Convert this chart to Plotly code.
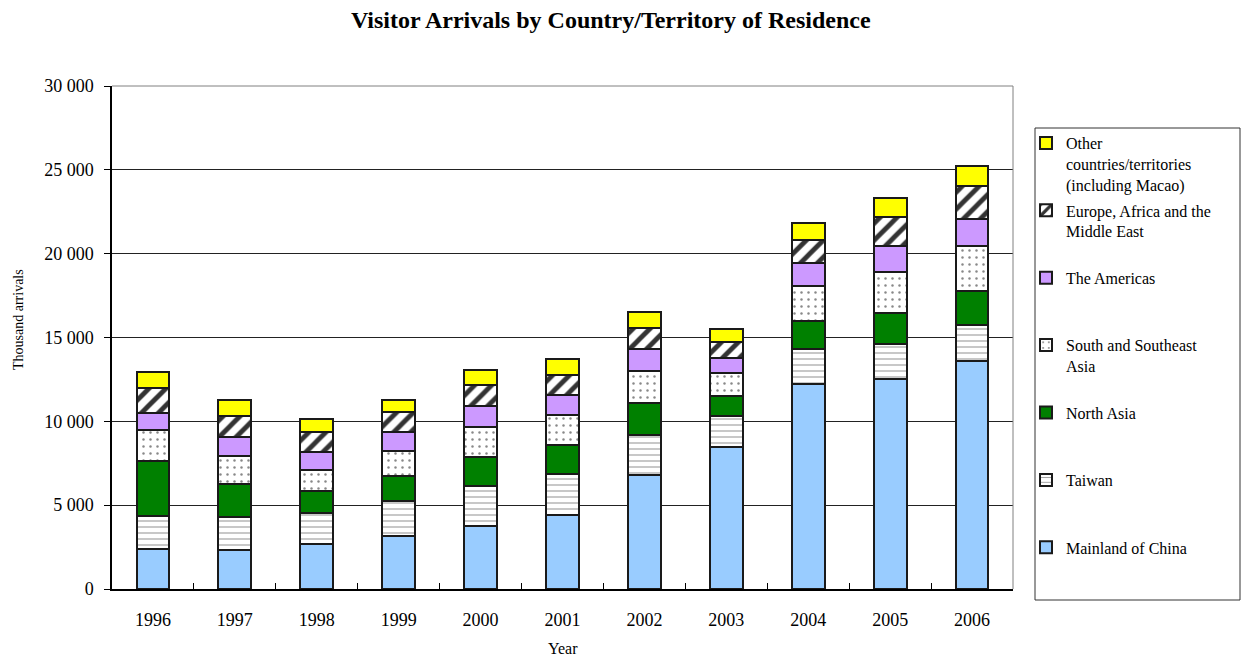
import plotly.graph_objects as go

years = ["1996", "1997", "1998", "1999", "2000", "2001", "2002", "2003", "2004", "2005", "2006"]
mainland = [2380, 2320, 2660, 3170, 3770, 4400, 6790, 8450, 12220, 12510, 13590]
taiwan = [2000, 1970, 1880, 2080, 2380, 2440, 2420, 1860, 2090, 2110, 2180]
north_asia = [3230, 2000, 1290, 1470, 1730, 1770, 1870, 1210, 1650, 1850, 1980]
ssea = [1850, 1630, 1290, 1510, 1790, 1750, 1920, 1350, 2100, 2440, 2680]
americas = [1050, 1130, 1070, 1130, 1270, 1230, 1310, 910, 1390, 1530, 1610]
europe = [1470, 1290, 1170, 1170, 1250, 1170, 1270, 970, 1390, 1770, 1970]
other = [990, 910, 750, 770, 850, 930, 970, 730, 990, 1110, 1210]

FONT = "Liberation Serif"
LINE = dict(color="#1a1a1a", width=2)

series = [
    ("Mainland of China<br> <br> ", mainland, dict(color="#99CCFF", line=LINE)),
    ("Taiwan<br> <br> ", taiwan, dict(color="white", line=LINE,
        pattern=dict(shape="-", fgcolor="#999999", bgcolor="white", size=6, solidity=0.18, fillmode="replace"))),
    ("North Asia<br> <br> ", north_asia, dict(color="#008000", line=LINE)),
    ("South and Southeast<br>Asia<br> ", ssea, dict(color="white", line=LINE,
        pattern=dict(shape=".", fgcolor="#888888", bgcolor="white", size=7, solidity=0.1, fillmode="replace"))),
    ("The Americas<br> <br> ", americas, dict(color="#CC99FF", line=LINE)),
    ("Europe, Africa and the<br>Middle East<br> ", europe, dict(color="white", line=LINE,
        pattern=dict(shape="/", fgcolor="#333333", bgcolor="white", size=12, solidity=0.4, fillmode="replace"))),
    ("Other<br>countries/territories<br>(including Macao)", other, dict(color="#FFFF00", line=LINE)),
]

n = len(series)
fig = go.Figure()
for i, (name, vals, marker) in enumerate(series):
    fig.add_trace(go.Bar(x=years, y=vals, name=name, marker=marker,
                         legendgroup=f"g{i}", legendrank=n - i))

fig.update_layout(
    barmode="stack",
    bargap=0.6,
    width=1249, height=657,
    margin=dict(l=112, r=236, t=86, b=68, autoexpand=False),
    paper_bgcolor="white", plot_bgcolor="white",
    font=dict(family=FONT, size=18, color="black"),
    separators=". ",
    title=dict(text="<b>Visitor Arrivals by Country/Territory of Residence</b>",
               x=0.489, xanchor="center", y=1 - 20 / 657, yanchor="middle",
               font=dict(family=FONT, size=24, color="black")),
    legend=dict(x=(1026 - 112) / 901, xanchor="left", y=(589 - 126) / 503, yanchor="top",
                traceorder="grouped", tracegroupgap=2, valign="top",
                font=dict(family=FONT, size=16, color="black"),
                bgcolor="rgba(0,0,0,0)", borderwidth=0),
    showlegend=True,
    xaxis=dict(type="category", tickson="boundaries", ticks="inside", ticklen=6, tickcolor="black",
               showline=True, linecolor="black", linewidth=1.5, showgrid=False,
               ticklabelstandoff=14, tickfont=dict(family=FONT, size=18)),
    yaxis=dict(range=[0, 30000], dtick=5000, tickformat=",d", ticks="outside", ticklen=6,
               tickcolor="black", showline=True, linecolor="black", linewidth=1.5,
               showgrid=True, gridcolor="#222222", gridwidth=1, zeroline=False,
               ticklabelstandoff=7, tickfont=dict(family=FONT, size=18)),
    shapes=[
        dict(type="line", xref="paper", yref="paper", x0=0, x1=1, y0=1, y1=1,
             line=dict(color="#808080", width=1)),
        dict(type="line", xref="paper", yref="paper", x0=1, x1=1, y0=0, y1=1,
             line=dict(color="#808080", width=1)),
        dict(type="rect", xref="paper", yref="paper",
             x0=(1035 - 112) / 901, x1=(1240 - 112) / 901,
             y0=(589 - 600) / 503, y1=(589 - 128) / 503,
             line=dict(color="#333333", width=1), fillcolor="rgba(0,0,0,0)"),
    ],
    annotations=[
        dict(text="Thousand arrivals", xref="paper", yref="paper",
             x=(18 - 112) / 901, y=(589 - 320) / 503, textangle=-90,
             showarrow=False, xanchor="center", yanchor="middle",
             font=dict(family=FONT, size=14, color="black")),
        dict(text="Year", xref="paper", yref="paper",
             x=(563 - 112) / 901, y=(589 - 648) / 503,
             showarrow=False, xanchor="center", yanchor="middle",
             font=dict(family=FONT, size=16, color="black")),
    ],
)

fig.write_html("out.html", config={"displayModeBar": False},
               post_script="document.body.style.margin='0px';document.body.style.overflow='hidden';")
